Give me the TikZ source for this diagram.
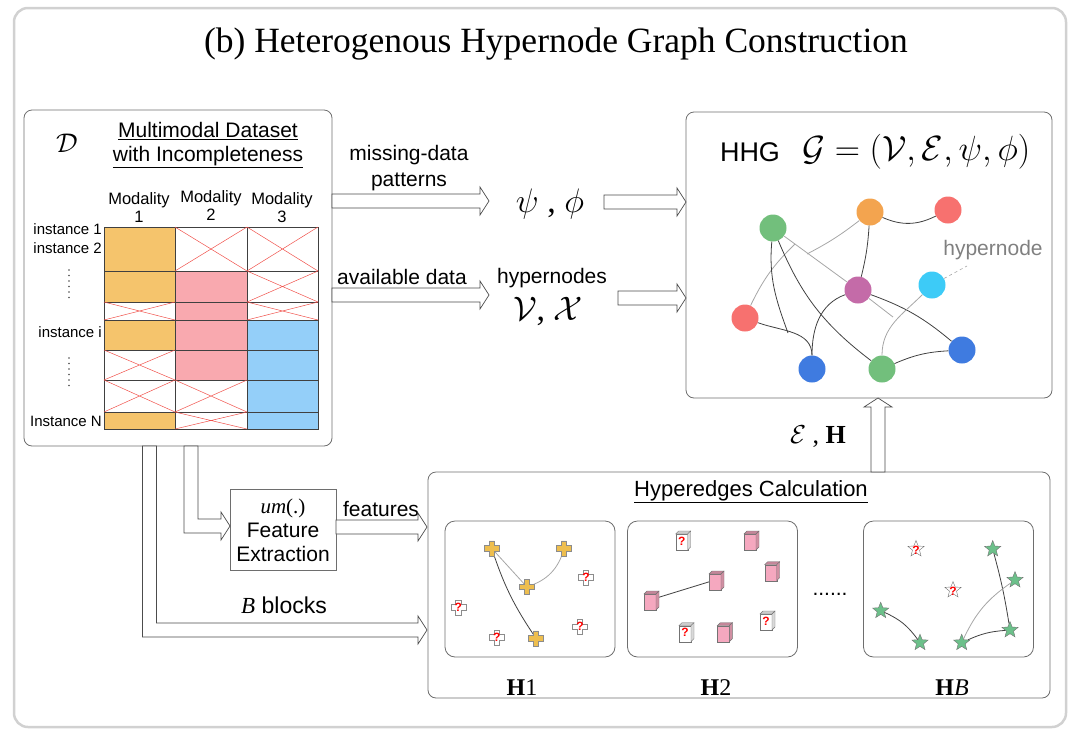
\RequirePackage{fix-cm}
\documentclass[tikz,border=0pt]{standalone}
\usepackage{fontspec}
\setmainfont{Liberation Serif}
\setsansfont{Liberation Sans}
\usetikzlibrary{calc,shapes.geometric}

\definecolor{cellO}{HTML}{F5C46C}
\definecolor{cellP}{HTML}{F9A9AF}
\definecolor{cellB}{HTML}{94CFF9}
\definecolor{crossR}{HTML}{F0504A}
\definecolor{nGreen}{HTML}{72BF7C}
\definecolor{nOrange}{HTML}{F3A44F}
\definecolor{nRed}{HTML}{F7716F}
\definecolor{nCyan}{HTML}{3DCBF7}
\definecolor{nPurple}{HTML}{C46BA8}
\definecolor{nBlue}{HTML}{3F7BE0}
\definecolor{plusO}{HTML}{EEBE4E}
\definecolor{cubeP}{HTML}{F5A8BF}
\definecolor{starG}{HTML}{6CC08A}
\definecolor{boxline}{HTML}{6E6E6E}

\tikzset{
  frame/.style={draw=black!18, line width=2.5pt, rounded corners=14pt},
  panel/.style={draw=boxline, line width=0.8pt, rounded corners=8pt, inner sep=0pt},
  subpanel/.style={draw=boxline, line width=0.8pt, rounded corners=10pt, inner sep=0pt,
    minimum width=170, minimum height=136},
  cell/.style={draw=black!75, line width=0.5pt},
  xline/.style={draw=crossR, line width=0.5pt},
  lbl/.style={font=\sffamily\fontsize{21}{24}\selectfont, inner sep=0pt, align=center},
  smalllbl/.style={font=\sffamily\fontsize{15}{18}\selectfont, inner sep=0pt},
  collbl/.style={font=\sffamily\fontsize{16.5}{18}\selectfont, inner sep=0pt, align=center},
  mathlbl/.style={font=\fontsize{34}{38}\selectfont, inner sep=0pt},
  hlbl/.style={font=\rmfamily\fontsize{24}{28}\selectfont, inner sep=0pt},
  qmark/.style={text=red, font=\sffamily\bfseries\fontsize{12}{12}\selectfont, inner sep=0pt},
  gnode/.style={circle, minimum size=27, inner sep=0pt, fill=#1},
  dedge/.style={draw=black!75, line width=0.8pt},
  ledge/.style={draw=black!35, line width=0.8pt},
  starn/.style={star, star points=5, star point ratio=2.3, minimum size=17, inner sep=0pt,
    draw=black!55, line width=0.4pt, fill=#1},
  % hollow block arrows
  harrow/.style={draw=black!70, fill=white, line width=0.7pt,
    to path={let \p1=(\tikztostart), \p2=(\tikztotarget) in
      (\x1,\y1+#1) -- (\x2-9pt,\y1+#1) -- (\x2-9pt,\y1+2*#1) -- (\x2,\y1)
      -- (\x2-9pt,\y1-2*#1) -- (\x2-9pt,\y1-#1) -- (\x1,\y1-#1) -- cycle}},
  harrow/.default=7pt,
  varrow/.style={draw=black!70, fill=white, line width=0.7pt,
    to path={let \p1=(\tikztostart), \p2=(\tikztotarget) in
      (\x1-#1,\y1) -- (\x1-#1,\y2-9pt) -- (\x1-2*#1,\y2-9pt) -- (\x1,\y2)
      -- (\x1+2*#1,\y2-9pt) -- (\x1+#1,\y2-9pt) -- (\x1+#1,\y1) -- cycle}},
  varrow/.default=7pt,
  larrow/.style={draw=black!70, fill=white, line width=0.7pt,
    to path={let \p1=(\tikztostart), \p2=(\tikztotarget) in
      (\x1-#1,\y1) -- (\x1-#1,\y2-#1) -- (\x2-9pt,\y2-#1) -- (\x2-9pt,\y2-2*#1) -- (\x2,\y2)
      -- (\x2-9pt,\y2+2*#1) -- (\x2-9pt,\y2+#1) -- (\x1+#1,\y2+#1) -- (\x1+#1,\y1) -- cycle}},
  larrow/.default=7pt,
  plus/.pic={\draw[draw=black!45, line width=0.5pt, fill=#1]
    (-2.6,-7.5) -- (2.6,-7.5) -- (2.6,-2.6) -- (7.5,-2.6) -- (7.5,2.6) -- (2.6,2.6)
    -- (2.6,7.5) -- (-2.6,7.5) -- (-2.6,2.6) -- (-7.5,2.6) -- (-7.5,-2.6) -- (-2.6,-2.6) -- cycle;},
  cube/.pic={
    \draw[draw=black!55, line width=0.4pt, fill=#1] (-6,-6) rectangle (6,10);
    \draw[draw=black!55, line width=0.4pt, fill=#1!80!black] (-6,-6) -- (-3,-9) -- (9,-9) -- (6,-6) -- cycle;
    \draw[draw=black!55, line width=0.4pt, fill=#1!85!black] (6,-6) -- (9,-9) -- (9,7) -- (6,10) -- cycle;}
}

\begin{document}
\begin{tikzpicture}[x=1pt, y=-1pt]
\useasboundingbox (0,0) rectangle (1080,737);
\draw[frame] (14,8) rectangle (1066,727);
\node[font=\rmfamily\fontsize{35.5}{40}\selectfont, inner sep=0pt] (title) at (556,44)
  {(b) Heterogenous Hypernode Graph Construction};

% dataset panel
\node[panel, minimum width=308, minimum height=336] (data) at (178,278) {};
\node[font=\fontsize{27}{30}\selectfont, inner sep=0pt] (dsym) at (67,143) {$\mathcal{D}$};
\node[lbl] (dtitle) at (208,145) {\underline{Multimodal Dataset}\\\underline{with Incompleteness}};
\node[collbl] (mod1) at (139,208) {Modality\\1};
\node[collbl] (mod2) at (211,206) {Modality\\2};
\node[collbl] (mod3) at (282,208) {Modality\\3};
\node[smalllbl, anchor=east] (ins1) at (102,229) {instance 1};
\node[smalllbl, anchor=east] (ins2) at (102,248) {instance 2};
\node[smalllbl, anchor=east] (insi) at (102,332) {instance i};
\node[smalllbl, anchor=east] (insn) at (102,421) {Instance N};
\foreach \yy in {270,275.5,281,286.5,292,297.5} {
  \fill[black!70] (69,\yy) circle (0.9);
  \fill[black!70] (69,\yy+88) circle (0.9);
}
\foreach \xa/\ya/\xb/\yb/\cc in {104/227/175/271/cellO, 104/271/175/302/cellO, 104/320/175/350/cellO,
    104/412/175/429/cellO, 175/271/247/302/cellP, 175/302/247/320/cellP, 175/320/247/350/cellP,
    175/350/247/380/cellP, 247/320/318/350/cellB, 247/350/318/380/cellB, 247/380/318/412/cellB,
    247/412/318/429/cellB}
  \draw[cell, fill=\cc] (\xa,\ya) rectangle (\xb,\yb);
\foreach \xa/\ya/\xb/\yb in {104/302/175/320, 104/350/175/380, 104/380/175/412,
    175/227/247/271, 175/380/247/412, 175/412/247/429,
    247/227/318/271, 247/271/318/302, 247/302/318/320} {
  \draw[cell] (\xa,\ya) rectangle (\xb,\yb);
  \draw[xline] (\xa,\ya) -- (\xb,\yb) (\xa,\yb) -- (\xb,\ya);
}

% top arrows
\node[lbl] (mdp) at (409,168) {missing-data\\[2pt]patterns};
\node[mathlbl] (psiphi) at (550,204) {$\psi$ , $\phi$};
\node[lbl] (avd) at (402,277) {available data};
\node[lbl] (hyn) at (552,278) {hypernodes};
\node[mathlbl] (vx) at (548,311) {$\mathcal{V}$, $\mathcal{X}$};
\coordinate (a1s) at (332,201);
\coordinate (a1e) at (489,201);
\coordinate (a2s) at (604,202);
\coordinate (a2e) at (686,202);
\coordinate (a3s) at (332,295);
\coordinate (a3e) at (489,295);
\coordinate (a4s) at (618,298);
\coordinate (a4e) at (686,298);
\draw[harrow] (a1s) to (a1e);
\draw[harrow] (a2s) to (a2e);
\draw[harrow] (a3s) to (a3e);
\draw[harrow] (a4s) to (a4e);

% HHG panel
\node[panel, minimum width=366, minimum height=286] (hhg) at (869,255) {};
\node[font=\sffamily\fontsize{27}{30}\selectfont, inner sep=0pt] (hhglbl) at (750,152) {HHG};
\node[font=\fontsize{35}{40}\selectfont, inner sep=0pt, anchor=west] (gform) at (802,152)
  {$\mathcal{G}=(\mathcal{V},\mathcal{E},\psi,\phi)$};
\node[gnode=nGreen] (g1) at (773,228) {};
\node[gnode=nOrange] (or) at (870,212) {};
\node[gnode=nRed] (r1) at (948,210) {};
\node[gnode=nCyan] (cy) at (932,285) {};
\node[gnode=nPurple] (pu) at (858,290) {};
\node[gnode=nRed] (r2) at (745,318) {};
\node[gnode=nBlue] (b2) at (962,350) {};
\node[gnode=nBlue] (b1) at (812,369) {};
\node[gnode=nGreen] (g2) at (882,369) {};
\coordinate (j1) at (807,254);
\coordinate (j2) at (795,244);
\coordinate (j3) at (893,317);
\coordinate (j4) at (788,333);
\coordinate (hnpt) at (967,266);
\node[lbl, text=black!50] (hnlbl) at (993,250) {hypernode};
\draw[dashed, black!35, line width=0.6pt] (cy) -- (hnpt);
\draw[dedge] (or) to[bend right=25] (r1);
\draw[dedge] (or) to[bend left=5] (pu);
\draw[ledge] (or) to[bend left=5] (j1);
\draw[ledge] (g1) -- (pu);
\draw[ledge] (r2) to[bend left=10] (j2);
\draw[dedge] (g1) to[out=-95, in=110] (j4);
\draw[dedge] (r2) to[out=-20, in=90] (b1);
\draw[dedge] (g1) to[bend right=15] (g2);
\draw[dedge] (pu) to[out=200, in=90] (b1);
\draw[dedge] (pu) to[bend left=10] (b2);
\draw[ledge] (cy) to[out=225, in=90] (g2);
\draw[ledge] (pu) -- (j3);
\draw[dedge] (g2) to[bend left=10] (b2);

% feature extraction and lower arrows
\node[draw=boxline, line width=0.8pt, minimum width=106, minimum height=81, lbl] (feat) at (283,530)
  {{\rmfamily\itshape um}{\rmfamily(.)}\\Feature\\Extraction};
\node[lbl] (featlbl) at (381,509) {features};
\node[lbl, font=\sffamily\fontsize{23}{26}\selectfont] (blk) at (284,605) {{\rmfamily\itshape B} blocks};
\coordinate (las) at (191,446);
\coordinate (lae) at (230,526);
\coordinate (lbs) at (149.5,446);
\coordinate (lbe) at (427,630);
\coordinate (fs) at (336,527);
\coordinate (fe) at (427,527);
\draw[larrow] (lbs) to (lbe);
\draw[larrow] (las) to (lae);
\draw[harrow] (fs) to (fe);

% hyperedges panel
\node[panel, minimum width=622, minimum height=226] (hyper) at (739,585) {};
\node[lbl, font=\sffamily\fontsize{22}{26}\selectfont] (hytitle) at (751,492) {\underline{Hyperedges Calculation}};
\coordinate (ehs) at (878,472);
\coordinate (ehe) at (878,398);
\draw[varrow] (ehs) to (ehe);
\node[font=\fontsize{26}{30}\selectfont, inner sep=0pt] (ehlbl) at (818,437) {$\mathcal{E}$ , $\mathbf{H}$};
\node[subpanel] (h1box) at (530,589) {};
\node[subpanel] (h2box) at (712.5,589) {};
\node[subpanel] (hbbox) at (948.5,589) {};
\node[lbl] (hdots) at (830,594) {......};
\node[hlbl] (h1lbl) at (522,688) {\textbf{H}1};
\node[hlbl] (h2lbl) at (716,688) {\textbf{H}2};
\node[hlbl] (hblbl) at (952,688) {\textbf{H}\textit{B}};

% H1: plus shapes
\coordinate (pa) at (491.7,548.3);
\coordinate (pb) at (564,548.3);
\coordinate (pc) at (526.7,586.7);
\coordinate (pd) at (536,638.3);
\draw[ledge] (pa) -- (pc);
\draw[ledge] (pb) to[bend left=30] (pc);
\draw[dedge] (pa) to[bend right=8] (pd);
\foreach \pp in {pa,pb,pc,pd}
  \pic at (\pp) {plus=plusO};
\foreach \qx/\qy [count=\qi] in {586/577.3, 458.3/607.3, 496.7/637.3, 580/626.7} {
  \pic at (\qx,\qy) {plus=white};
  \node[qmark] (pq\qi) at (\qx,\qy) {?};
}

% H2: cubes
\coordinate (ca) at (650,600);
\coordinate (cb) at (715,580);
\draw[dedge] (ca) -- (cb);
\foreach \cx/\cy in {750/540, 770.7/570.7, 715/580, 650/600, 723.3/631.7}
  \pic at (\cx,\cy) {cube=cubeP};
\foreach \cx/\cy [count=\ci] in {681.7/540, 685/631.7, 766/620} {
  \pic at (\cx,\cy) {cube=white};
  \node[qmark] (cq\ci) at (\cx,\cy+1) {?};
}

% HB: stars
\node[starn=white] (sq1) at (916,549) {};
\node[qmark] (sq1t) at (916,550) {?};
\node[starn=white] (sq2) at (953,590) {};
\node[qmark] (sq2t) at (953,591) {?};
\node[starn=starG] (sa) at (992.7,549) {};
\node[starn=starG] (sb) at (1015,580) {};
\node[starn=starG] (sc) at (880.7,610.7) {};
\node[starn=starG] (sd) at (920,642.7) {};
\node[starn=starG] (se) at (961.7,642.7) {};
\node[starn=starG] (sf) at (1010,630) {};
\draw[dedge] (sc) to[bend left=15] (sd);
\draw[dedge] (sa) to[bend left=3] (sf);
\draw[ledge] (se) to[bend left=15] (sb);
\draw[dedge] (se) to[bend left=10] (sf);
\end{tikzpicture}
\end{document}
